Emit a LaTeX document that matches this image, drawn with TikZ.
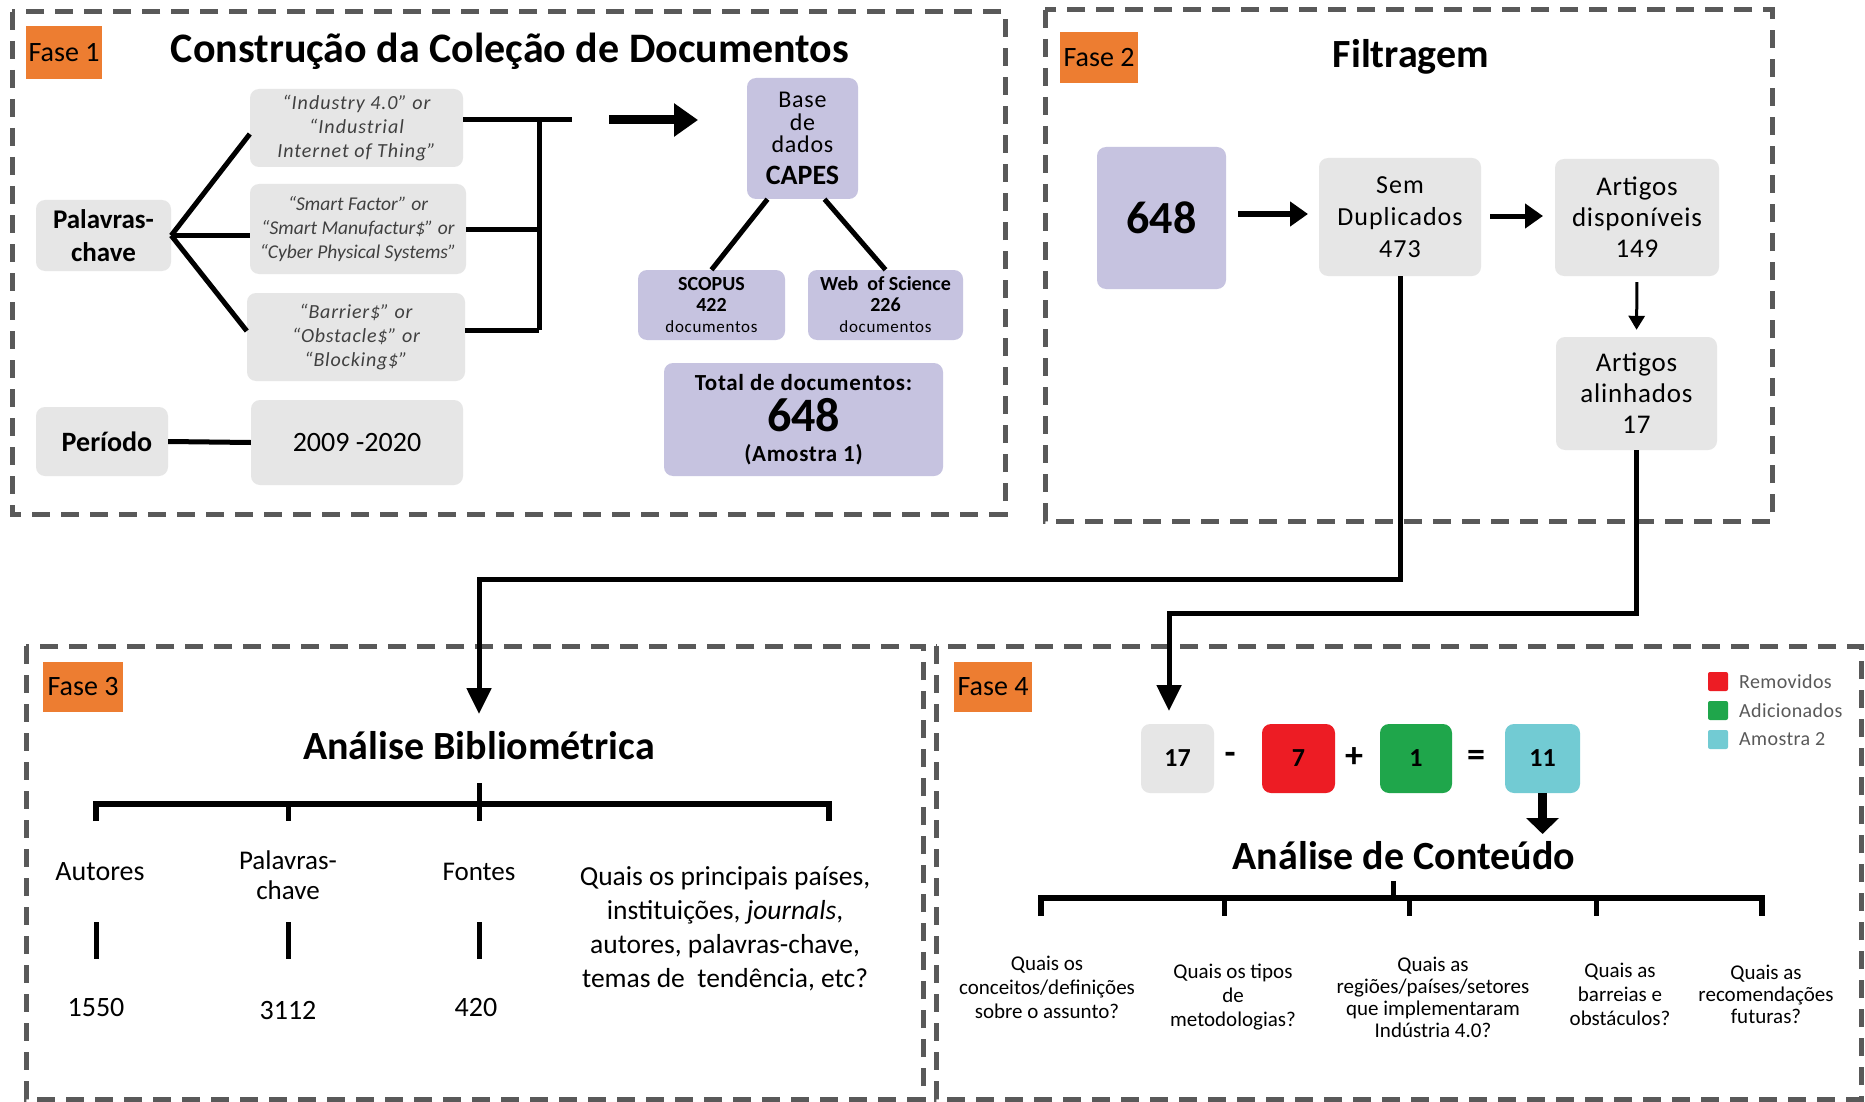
\documentclass[tikz,border=0pt]{standalone}
\usepackage{fontspec}
\setmainfont{Carlito}
\usetikzlibrary{arrows.meta}
\definecolor{faseorange}{HTML}{ED7D31}
\definecolor{boxgray}{HTML}{E6E6E6}
\definecolor{lavender}{HTML}{C6C3E0}
\definecolor{framegray}{HTML}{595959}
\definecolor{remred}{HTML}{ED1C24}
\definecolor{addgreen}{HTML}{1FA64B}
\definecolor{samplecyan}{HTML}{72CBD3}
\definecolor{kwtext}{HTML}{404040}
\newcommand\myfs[2]{\fontsize{#1}{#2}\selectfont}
\newcommand\spaced[1]{\addfontfeatures{LetterSpace=#1}}
\tikzset{
  phaseframe/.style={draw=framegray, line width=5pt, dash pattern=on 18pt off 11pt},
  faselabel/.style={fill=faseorange, inner sep=0pt, font=\myfs{28}{30}},
  gbox/.style={fill=boxgray, rounded corners=9pt, inner sep=0pt, align=center},
  lbox/.style={fill=lavender, rounded corners=9pt, inner sep=0pt, align=center},
  conn/.style={line width=5pt},
  bigarrow/.style={line width=9pt, -{Triangle[length=24pt,width=32pt]}},
  medarrow/.style={line width=6pt, -{Triangle[length=18pt,width=24pt]}},
  thinarrow/.style={line width=3pt, -{Triangle[length=14pt,width=16pt]}},
  downarrow/.style={line width=5pt, -{Triangle[length=26pt,width=24pt]}},
  plain/.style={inner sep=0pt, align=center},
  eqbox/.style={rounded corners=9pt, inner sep=0pt, minimum height=69pt, font=\myfs{26}{30}\bfseries},
  legsq/.style={inner sep=0pt, minimum width=20pt, minimum height=19pt, rounded corners=2pt},
  legtext/.style={inner sep=0pt, anchor=west, text=framegray, font=\myfs{20}{22}\spaced{2}},
  question/.style={inner sep=0pt, align=center, font=\myfs{21}{24}},
}
\begin{document}
\begin{tikzpicture}[x=1pt,y=-1pt]
\useasboundingbox (0,0) rectangle (1865,1102);
\fill[white] (0,0) rectangle (1865,1102);

% ---------- phase frames ----------
\draw[phaseframe] (12,12) rectangle (1005,514);
\draw[phaseframe] (1045,10) rectangle (1772,521);
\draw[phaseframe] (26,646) rectangle (923,1099);
\draw[phaseframe] (936,646) rectangle (1861,1099);

\node[faselabel, minimum width=76pt, minimum height=53pt] (f1) at (64,52.5) {Fase 1};
\node[faselabel, minimum width=78pt, minimum height=51pt] (f2) at (1099,57.5) {Fase 2};
\node[faselabel, minimum width=80pt, minimum height=50pt] (f3) at (83,687) {Fase 3};
\node[faselabel, minimum width=78pt, minimum height=50pt] (f4) at (993,687) {Fase 4};

% ---------- Fase 1: document collection ----------
\node[plain, font=\myfs{42}{44}\bfseries] (t1) at (510,51) {Construção da Coleção de Documentos};

\node[gbox, minimum width=213pt, minimum height=78pt, font=\myfs{20}{24}\itshape\spaced{5}, text=kwtext] (kwA) at (356.5,128)
  {“Industry 4.0” or\\“Industrial\\Internet of Thing”};
\node[gbox, minimum width=216pt, minimum height=90pt, font=\myfs{19.5}{24}\itshape, text=kwtext] (kwB) at (358,229)
  {“Smart Factor” or\\“Smart Manufactur\$” or\\“Cyber Physical Systems”};
\node[gbox, minimum width=218pt, minimum height=88pt, font=\myfs{20}{24}\itshape\spaced{4}, text=kwtext] (kwC) at (356,337)
  {“Barrier\$” or\\“Obstacle\$” or\\“Blocking\$”};

\node[gbox, minimum width=135pt, minimum height=71pt, font=\myfs{27}{33}\bfseries] (palav) at (103.5,235.5) {Palavras-\\chave};
\node[gbox, minimum width=132pt, minimum height=69pt, font=\myfs{28}{32}\bfseries] (periodo) at (102,441.5) {\hspace{10pt}Período};
\node[gbox, minimum width=212pt, minimum height=85pt, font=\myfs{28}{32}] (anos) at (357,442.5) {2009 -2020};

\draw[conn] (palav.east) -- ([yshift=-6pt]kwA.west);
\draw[conn] (palav.east) -- (palav.east -| kwB.west);
\draw[conn] (palav.east) -- ([yshift=6pt]kwC.west);
\draw[conn] (periodo.east) -- (anos.west);

% bus collecting the three keyword groups
\coordinate (busA) at (539,120);
\coordinate (busC) at (539,330);
\draw[conn] (kwA.east |- busA) -- (572,120) coordinate (busEnd);
\draw[conn] (busA) -- (busC);
\draw[conn] (kwB.east) -- (kwB.east -| busA);
\draw[conn] (kwC.east |- busC) -- (busC);

\node[lbox, minimum width=111pt, minimum height=121pt, font=\myfs{24}{22.5}\spaced{3}] (capes) at (802.5,138.5)
  {Base\\de\\dados\\[9pt]{\myfs{28}{28}\bfseries\spaced{0} CAPES}};
\coordinate (arrS) at (609,120);
\draw[bigarrow] (arrS) -- (698,120);

\node[lbox, minimum width=147pt, minimum height=70pt, font=\myfs{20}{21}] (scopus) at (711.5,305)
  {\textbf{SCOPUS}\\\textbf{422}\\{\myfs{17}{18}\spaced{4}documentos}};
\node[lbox, minimum width=155pt, minimum height=70pt, font=\myfs{20}{21}] (wos) at (885.5,305)
  {\textbf{Web\ \ of Science}\\\textbf{226}\\{\myfs{17}{18}\spaced{4}documentos}};
\draw[conn] ([xshift=-35pt]capes.south) -- (scopus.north);
\draw[conn] ([xshift=22pt]capes.south) -- (wos.north);

\node[lbox, minimum width=279pt, minimum height=113pt, font=\myfs{23}{24}\bfseries\spaced{3}] (total) at (803.5,419.5)
  {Total de documentos:\\[7pt]{\myfs{48}{24}\spaced{0}648}\\[6pt](Amostra 1)};

% ---------- Fase 2: filtering ----------
\node[plain, font=\myfs{40}{44}\bfseries] (t2) at (1411,57) {Filtragem};
\node[lbox, minimum width=129pt, minimum height=142pt, font=\myfs{46}{50}\bfseries] (n648) at (1161.5,218) {648};
\node[gbox, minimum width=162pt, minimum height=118pt, font=\myfs{26}{32}\spaced{4}] (semdup) at (1400,217) {Sem\\Duplicados\\473};
\node[gbox, minimum width=164pt, minimum height=117pt, font=\myfs{27}{31}\spaced{3}] (artdisp) at (1637,217.5) {Artigos\\disponíveis\\149};
\node[gbox, minimum width=161pt, minimum height=113pt, font=\myfs{27}{31}\spaced{3}] (artalin) at (1636.5,393.5) {Artigos\\alinhados\\17};

\coordinate (a1) at (1238,214);
\coordinate (a2) at (1490,216);
\draw[medarrow] (a1) -- (1308,214);
\draw[medarrow, line width=5pt] (a2) -- (1543,216);
\draw[thinarrow, shorten <=6pt, shorten >=7pt] (artdisp.south) -- (artalin.north);

% ---------- routes between phases ----------
\node[plain, font=\myfs{40}{44}\bfseries] (t3) at (479,746) {Análise Bibliométrica};
\draw[downarrow] (semdup.south) -- (1400,579) -- (479,579) -- (479,714);

\node[eqbox, fill=boxgray, minimum width=73pt] (b17) at (1177.5,758.5) {17};
\draw[downarrow] (artalin.south) -- (1636.5,613) -- (1169,613) -- (1169,711);

% ---------- Fase 3: bibliometric analysis ----------
\draw[conn] (479,783) -- (479,821);
\draw[conn, line width=6pt] (96,821) -- (96,804) -- (829,804) -- (829,821);
\draw[conn] (288,804) -- (288,821);

\node[plain, font=\myfs{28}{30}] (autores) at (100,872) {Autores};
\node[plain, font=\myfs{27}{30}] (palav3) at (288,875) {Palavras-\\chave};
\node[plain, font=\myfs{27}{30}] (fontes) at (479,872) {Fontes};
\node[plain, font=\myfs{27.5}{34}] (quest3) at (725,929)
  {Quais os principais países,\\instituições, \textit{journals},\\autores, palavras-chave,\\temas de\ \ tendência, etc?};

\draw[conn] (96,922) -- (96,959);
\draw[conn] (288,922) -- (288,959);
\draw[conn] (479,922) -- (479,959);

\node[plain, font=\myfs{28}{30}] (n1550) at (96,1007) {1550};
\node[plain, font=\myfs{28}{30}] (n3112) at (288,1010) {3112};
\node[plain, font=\myfs{28}{30}] (n420) at (476,1007) {420};

% ---------- Fase 4: content analysis ----------
\node[legsq, fill=remred] (lr) at (1718,681.5) {};
\node[legsq, fill=addgreen] (lg) at (1718,710.5) {};
\node[legsq, fill=samplecyan] (lc) at (1718,739.5) {};
\node[legtext] (ltr) at (1739,681.5) {Removidos};
\node[legtext] (ltg) at (1739,710.5) {Adicionados};
\node[legtext] (ltc) at (1739,739.5) {Amostra 2};

\node[eqbox, fill=remred, minimum width=73pt] (b7) at (1298.5,758.5) {7};
\node[eqbox, fill=addgreen, minimum width=72pt] (b1) at (1416,758.5) {1};
\node[eqbox, fill=samplecyan, minimum width=75pt] (b11) at (1542.5,758.5) {11};
\node[plain, font=\myfs{36}{40}\bfseries] (opm) at (1230,758) {-};
\node[plain, font=\myfs{36}{40}\bfseries] (opp) at (1354,758) {+};
\node[plain, font=\myfs{36}{40}\bfseries] (ope) at (1476,758) {=};

\draw[bigarrow, -{Triangle[length=16pt,width=32pt]}] (b11.south) -- (1542.5,834);

\node[plain, font=\myfs{40}{44}\bfseries] (t4) at (1404,856) {Análise de Conteúdo};
\draw[conn] (1393,881) -- (1393,898);
\draw[conn, line width=6pt] (1041,916) -- (1041,898) -- (1762,898) -- (1762,916);
\draw[conn] (1224,898) -- (1224,916);
\draw[conn] (1409,898) -- (1409,916);
\draw[conn] (1596,898) -- (1596,916);

\node[question] (q1) at (1047,987) {Quais os\\conceitos/definições\\sobre o assunto?};
\node[question] (q2) at (1233,997) {Quais os tipos\\de\\metodologias?};
\node[question, font=\myfs{21}{22}] (q3) at (1433,997) {Quais as\\regiões/países/setores\\que implementaram\\Indústria 4.0?};
\node[question] (q4) at (1620,994) {Quais as\\barreias e\\obstáculos?};
\node[question, font=\myfs{21}{22}] (q5) at (1766,994) {Quais as\\recomendações\\futuras?};
\end{tikzpicture}
\end{document}
